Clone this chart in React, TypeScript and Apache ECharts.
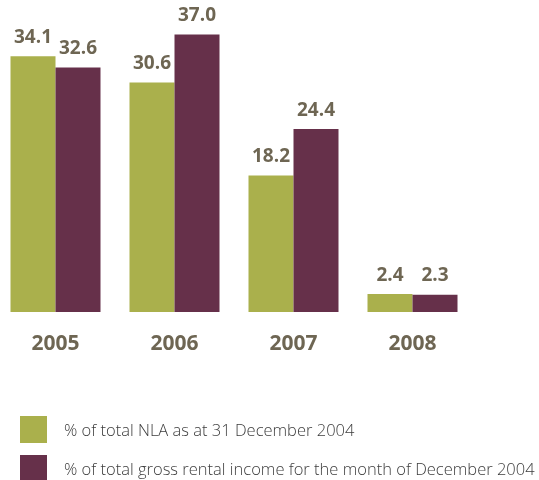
import React, { useEffect, useRef } from "react";
import * as echarts from "echarts";

const categories = ["2005", "2006", "2007", "2008"];
const nlaShare = [34.1, 30.6, 18.2, 2.4];
const incomeShare = [32.6, 37.0, 24.4, 2.3];
const seriesNames = [
  "% of total NLA as at 31 December 2004",
  "% of total gross rental income for the month of December 2004",
];

const GREEN = "#aab04c";
const PURPLE = "#66304a";
const LABEL = "#6e6653";
const FONT = "'Open Sans', 'Noto Sans', sans-serif";
const SHIFT = 4;

export default function App() {
  const ref = useRef<HTMLDivElement>(null);
  useEffect(() => {
    if (!ref.current) return;
    const chart = echarts.init(ref.current, null, { renderer: "svg" });
    const labelCfg = {
      show: true,
      position: "top",
      distance: 11,
      fontSize: 19,
      fontWeight: "bold",
      color: LABEL,
      fontFamily: FONT,
      formatter: (p: any) => Number(p.value).toFixed(1),
    };
    const legendBase = {
      orient: "vertical",
      left: 20 + SHIFT,
      padding: 0,
      itemWidth: 27,
      itemHeight: 27,
      icon: "rect",
      textStyle: {
        fontSize: 16.5,
        fontWeight: 300,
        color: "#3c3c3c",
        fontFamily: FONT,
        padding: [0, 0, 0, 12],
      },
    };
    chart.setOption({
      animation: false,
      grid: { left: 0, width: 476, top: 12, height: 300 },
      legend: [
        { ...legendBase, top: 416, data: [seriesNames[0]] },
        { ...legendBase, top: 455, data: [seriesNames[1]] },
      ],
      xAxis: {
        type: "category",
        data: categories,
        axisLine: { show: false },
        axisTick: { show: false },
        axisLabel: {
          fontSize: 21,
          fontWeight: "bold",
          color: LABEL,
          fontFamily: FONT,
          margin: 19,
        },
      },
      yAxis: {
        type: "value",
        min: 0,
        max: 40,
        show: false,
        splitLine: { show: false },
      },
      series: [
        {
          name: seriesNames[0],
          type: "bar",
          data: nlaShare,
          barWidth: 45,
          barGap: "0%",
          itemStyle: { color: GREEN },
          label: labelCfg,
        },
        {
          name: seriesNames[1],
          type: "bar",
          data: incomeShare,
          barWidth: 45,
          barGap: "0%",
          itemStyle: { color: PURPLE },
          label: labelCfg,
        },
      ],
    });
    return () => chart.dispose();
  }, []);
  return (
    <div
      ref={ref}
      style={{ position: "fixed", left: -SHIFT, top: 0, width: 539 + SHIFT, height: 480 }}
    />
  );
}
